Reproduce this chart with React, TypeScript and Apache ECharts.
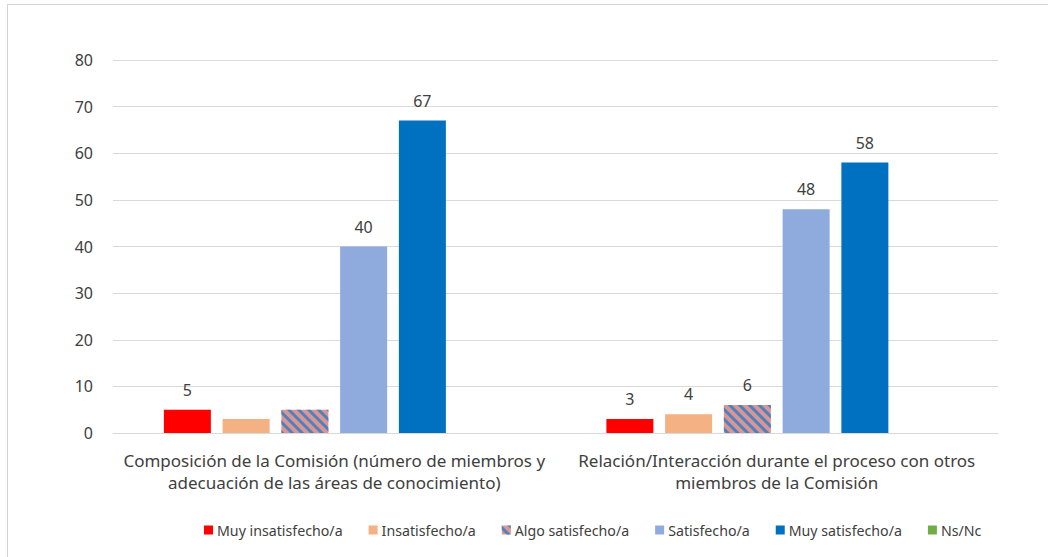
import React, { useEffect, useRef } from "react";
import * as echarts from "echarts";

const categories = [
  "Composición de la Comisión (número de miembros y\nadecuación de las áreas de conocimiento)",
  "Relación/Interacción durante el proceso con otros\nmiembros de la Comisión",
];
const seriesNames = [
  "Muy insatisfecho/a",
  "Insatisfecho/a",
  "Algo satisfecho/a",
  "Satisfecho/a",
  "Muy satisfecho/a",
  "Ns/Nc",
];
const muyInsatisfecho = [5, 3];
const insatisfecho = [3, 4];
const algoSatisfecho = [5, 6];
const satisfecho = [40, 48];
const muySatisfecho = [67, 58];
const nsNc = [0, 0];
// which bars carry a value label in the reference
const labelShown = [
  [true, true],
  [false, true],
  [false, true],
  [true, true],
  [true, true],
  [false, false],
];
const yTicks = [0, 10, 20, 30, 40, 50, 60, 70, 80];

const FONT = "'Noto Sans', sans-serif";
const TEXT = "#404040";

export default function App() {
  const ref = useRef<HTMLDivElement>(null);
  useEffect(() => {
    document.body.style.margin = "0";
    const chart = echarts.init(ref.current!, null, { renderer: "svg" });
    const values = [muyInsatisfecho, insatisfecho, algoSatisfecho, satisfecho, muySatisfecho, nsNc];
    const colors = ["#FF0000", "#F4B183", "#DA9694", "#8FAADC", "#0070C0", "#70AD47"];
    const series = values.map((vals, i) => ({
      name: seriesNames[i],
      type: "bar",
      barWidth: 47,
      barGap: "25%",
      itemStyle: i === 2
        ? {
            color: colors[i],
            decal: {
              symbol: "rect",
              color: "#4F81BD",
              dashArrayX: [1, 0],
              dashArrayY: [3, 4],
              rotation: Math.PI / 4,
            },
          }
        : { color: colors[i] },
      data: vals.map((v, j) => ({
        value: v,
        label: {
          show: labelShown[i][j],
          position: "top",
          distance: 12,
          color: TEXT,
          fontSize: 16,
          fontFamily: FONT,
        },
      })),
    }));
    chart.setOption({
      animation: false,
      textStyle: { fontFamily: FONT },
      graphic: [
        { type: "line", shape: { x1: 7, y1: 4.5, x2: 1048, y2: 4.5 }, style: { stroke: "#d4d4d4", lineWidth: 1 } },
        { type: "line", shape: { x1: 7.5, y1: 4, x2: 7.5, y2: 557 }, style: { stroke: "#d4d4d4", lineWidth: 1 } },
      ],
      legend: {
        left: 204,
        top: 523,
        padding: 0,
        itemWidth: 9,
        itemHeight: 9,
        itemGap: 26,
        icon: "rect",
        textStyle: { color: TEXT, fontSize: 14.2, fontFamily: FONT, padding: [0, 0, 0, -1] },
        data: seriesNames,
      },
      grid: { left: 113, right: 50, top: 60, bottom: 124, containLabel: false },
      xAxis: {
        type: "category",
        data: categories,
        axisLine: { lineStyle: { color: "#d9d9d9" } },
        axisTick: { show: false },
        axisLabel: { color: TEXT, fontSize: 17, fontFamily: FONT, lineHeight: 22, margin: 16, interval: 0 },
      },
      yAxis: {
        type: "value",
        min: yTicks[0],
        max: yTicks[yTicks.length - 1],
        interval: yTicks[1] - yTicks[0],
        axisLine: { show: false },
        axisTick: { show: false },
        splitLine: { lineStyle: { color: "#d9d9d9" } },
        axisLabel: { color: TEXT, fontSize: 16, fontFamily: FONT, margin: 20 },
      },
      series,
    });
    return () => chart.dispose();
  }, []);
  return <div ref={ref} style={{ width: 1048, height: 557 }} />;
}
